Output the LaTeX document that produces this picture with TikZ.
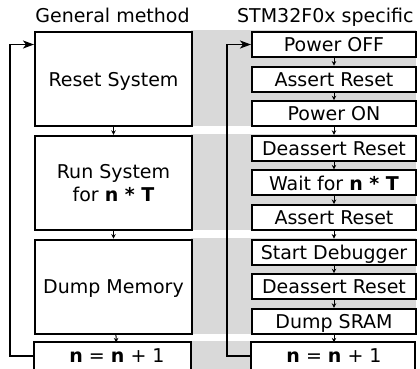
\documentclass[tikz,border=0pt]{standalone}
\usepackage{fontspec}
\setmainfont{DejaVu Sans}
\usetikzlibrary{arrows.meta}
\tikzset{
  txt/.style={font=\fontsize{19}{23}\selectfont},
  box/.style={txt, draw=black, line width=2pt, fill=white, inner sep=0pt,
    outer sep=1pt, align=center, text depth=0pt},
  leftbox/.style={box, minimum width=157pt, minimum height=94.2pt},
  stepbox/.style={box, minimum width=164pt, minimum height=25pt},
  openbox/.style={fill=white, draw=black, line width=2pt},
  link/.style={line width=1pt, -{Stealth[length=4.5pt,width=4.5pt]}},
  loopback/.style={line width=1.8pt, -{Stealth[length=11pt,width=8pt,inset=3pt]}},
  band/.style={fill=black!15, draw=none},
}
\begin{document}
\begin{tikzpicture}[x=1pt,y=-1pt]
\useasboundingbox (0,0) rectangle (420,368);

% grey bands linking each general step to its STM32F0x steps
\fill[band] (191,30)    rectangle (416,126.2);
\fill[band] (191,133.8) rectangle (416,230);
\fill[band] (191,237.6) rectangle (416,333.8);
\fill[band] (191,341.4) rectangle (416,380);

% column titles
\node[txt, anchor=base] (t1) at (112.5,22) {General method};
\node[txt, anchor=base east] (t2) at (417,22) {STM32F0x specific};

% general method
\node[leftbox, anchor=north west] (reset) at (34,31) {Reset System};
\node[leftbox, anchor=north west] (run) at (34,134.8) {Run System\\for \textbf{n * T}};
\node[leftbox, anchor=north west] (dump) at (34,238.6) {Dump Memory};
\draw[openbox] (34,376) -- (34,342.4) -- (191,342.4) -- (191,376);
\node[stepbox, draw=none, fill=none, anchor=north west] (inc1) at (34,342.4)
  {\textbf{n} = \textbf{n} + 1};

% STM32F0x specific
\node[stepbox, anchor=north west] (off)   at (251,31)    {Power OFF};
\node[stepbox, anchor=north west] (ar1)   at (251,65.6)  {Assert Reset};
\node[stepbox, anchor=north west] (on)    at (251,100.2) {Power ON};
\node[stepbox, anchor=north west] (dr1)   at (251,134.8) {Deassert Reset};
\node[stepbox, anchor=north west] (wait)  at (251,169.4) {Wait for \textbf{n * T}};
\node[stepbox, anchor=north west] (ar2)   at (251,204)   {Assert Reset};
\node[stepbox, anchor=north west] (dbg)   at (251,238.6) {Start Debugger};
\node[stepbox, anchor=north west] (dr2)   at (251,273.2) {Deassert Reset};
\node[stepbox, anchor=north west] (sram)  at (251,307.8) {Dump SRAM};
\draw[openbox] (251,376) -- (251,342.4) -- (415,342.4) -- (415,376);
\node[stepbox, draw=none, fill=none, anchor=north west] (inc2) at (251,342.4)
  {\textbf{n} = \textbf{n} + 1};

% step connectors
\draw[link] (reset) -- (run);
\draw[link] (run) -- (dump);
\draw[link] (dump) -- (inc1);
\foreach \a/\b in {off/ar1, ar1/on, on/dr1, dr1/wait, wait/ar2, ar2/dbg, dbg/dr2, dr2/sram, sram/inc2}
  \draw[link] (\a) -- (\b);

% loop back to the start
\draw[loopback] (inc1.west) -- ++(-24,0) |- (reset.west |- off.west);
\draw[loopback] (inc2.west) -- ++(-24,0) |- (off.west);
\end{tikzpicture}
\end{document}
